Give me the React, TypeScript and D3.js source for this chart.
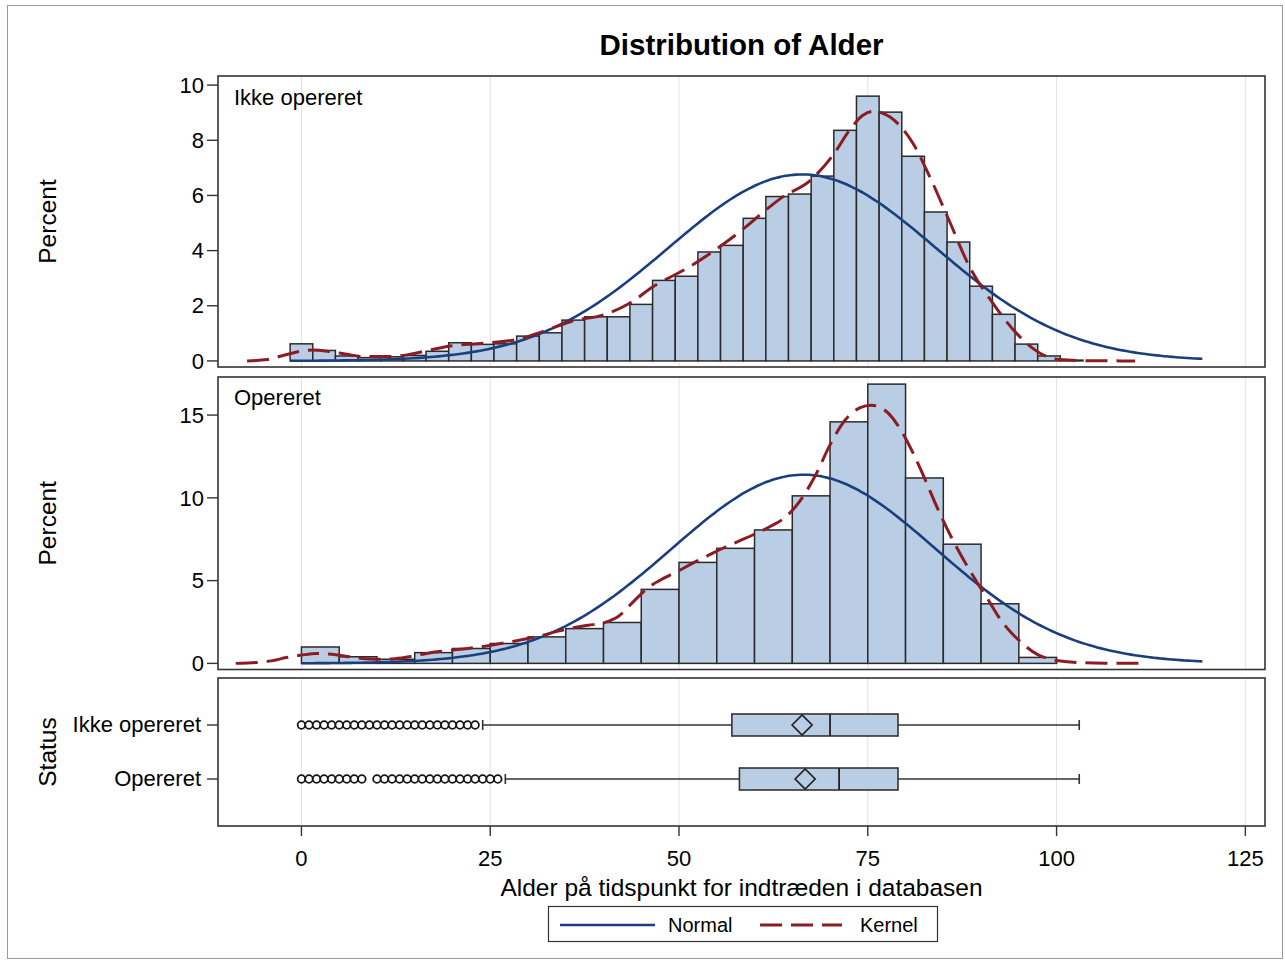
import React from 'react';
import * as d3 from 'd3';

// ---------- data ----------
const groups = ['Ikke opereret', 'Opereret'];

// Top panel histogram (Ikke opereret): bin width 3, centers
const ikkeBinCenters = [0, 3, 6, 9, 12, 15, 18, 21, 24, 27, 30, 33, 36, 39, 42, 45, 48, 51, 54, 57, 60, 63, 66, 69, 72, 75, 78, 81, 84, 87, 90, 93, 96, 99, 102];
const ikkePercent = [0.62, 0.38, 0.18, 0.12, 0.15, 0.2, 0.35, 0.66, 0.6, 0.62, 0.9, 1.02, 1.48, 1.6, 1.6, 2.05, 2.92, 3.07, 3.95, 4.19, 5.17, 5.96, 6.05, 6.7, 8.36, 9.6, 9.02, 7.42, 5.4, 4.31, 2.71, 1.69, 0.61, 0.18, 0.03];
const ikkeBinWidth = 3;

// Bottom panel histogram (Opereret): bin width 5, left edges
const operBinStarts = [0, 5, 10, 15, 20, 25, 30, 35, 40, 45, 50, 55, 60, 65, 70, 75, 80, 85, 90, 95];
const operPercent = [0.99, 0.4, 0.25, 0.65, 0.9, 1.2, 1.6, 2.1, 2.47, 4.47, 6.1, 6.95, 8.06, 10.12, 14.59, 16.87, 11.2, 7.2, 3.6, 0.36];
const operBinWidth = 5;

// Normal fit parameters
const normalMean = [66.3, 66.5];
const normalStd = [17.7, 17.5];
const normalRange: [number, number][] = [[-1.5, 119.3], [0, 119.3]];

// Kernel density curves
const ikkeKernel: [number, number][] = [
  [-7.2, 0], [-4.5, 0.05], [-2.8, 0.17], [0, 0.36], [1.6, 0.4], [3.8, 0.34], [6, 0.24], [8.2, 0.16], [11.7, 0.16], [14, 0.22],
  [16.1, 0.34], [19.7, 0.54], [24, 0.64], [28.5, 0.78], [32, 1.07], [35.9, 1.45], [39.9, 1.66], [43.4, 2.08], [46.5, 2.68],
  [51.3, 3.4], [54.4, 3.95], [58.8, 4.85], [61.4, 5.45], [63.6, 5.92], [67.4, 6.55], [70.4, 7.46], [72.6, 8.37], [74.3, 8.9],
  [75.8, 9.05], [77.9, 8.85], [81, 7.88], [83.2, 6.68], [85.6, 5.2], [88.5, 3.4], [91.6, 2.08], [94.7, 1.0], [97.8, 0.28],
  [100.4, 0.05], [104, 0.01], [110.4, 0],
];
const operKernel: [number, number][] = [
  [-8.7, 0], [-6, 0.05], [-4, 0.15], [-2, 0.35], [0, 0.5], [2, 0.6], [4, 0.55], [6, 0.42], [8, 0.3], [10, 0.25], [12, 0.27],
  [14, 0.38], [16, 0.55], [18, 0.7], [20, 0.8], [22, 0.9], [24, 1.02], [26, 1.17], [28, 1.33], [30, 1.5], [32, 1.7], [34, 1.95],
  [36, 2.15], [38, 2.3], [40, 2.45], [42, 2.85], [44, 3.75], [46, 4.6], [48, 5.15], [50, 5.6], [52, 6.1], [54, 6.55], [56, 7.0],
  [58, 7.4], [60, 7.8], [62, 8.25], [64, 8.8], [66, 9.8], [68, 11.3], [70, 13.2], [72, 14.7], [74, 15.45], [75.4, 15.6],
  [77.5, 15.2], [79.5, 14.0], [81, 12.7], [82.5, 11.2], [84.3, 9.3], [86.2, 7.5], [88, 6.0], [89.6, 4.8], [91, 3.8], [92.2, 2.9],
  [94, 1.85], [95, 1.4], [97.5, 0.53], [99, 0.27], [101, 0.12], [105, 0.02], [111.6, 0],
];

// Box plot statistics
const boxQ1 = [57, 58];
const boxMedian = [70, 71.2];
const boxQ3 = [79, 79];
const boxMean = [66.3, 66.7];
const whiskerLow = [24, 27];
const whiskerHigh = [103, 103];
const ikkeOutliers = [0, 1, 2, 3, 4, 5, 6, 7, 8, 9, 10, 11, 12, 13, 14, 15, 16, 17, 18, 19, 20, 21, 22, 23];
const operOutliers = [0, 1, 2, 3, 4, 5, 6, 7, 8, 10, 11, 12, 13, 14, 15, 16, 17, 18, 19, 20, 21, 22, 23, 24, 25, 26];

const xTicks = [0, 25, 50, 75, 100, 125];
const yTicksTop = [0, 2, 4, 6, 8, 10];
const yTicksBottom = [0, 5, 10, 15];

// ---------- styling ----------
const FONT = '"Liberation Sans", Arial, Helvetica, sans-serif';
const BAR_FILL = '#b9cde5';
const BAR_STROKE = '#2b2b2b';
const NORMAL_COLOR = '#1b3f7d';
const KERNEL_COLOR = '#8c1c24';
const GRID = '#e2e2e2';
const FRAME = '#333';
const DASH = '22 9';

const PL = 218, PR = 1265;

export default function App() {
  const x = d3.scaleLinear().domain([-11.05, 127.6]).range([PL, PR]);
  const yTop = d3.scaleLinear().domain([-0.22, 10.33]).range([367, 76]);
  const yBot = d3.scaleLinear().domain([-0.37, 17.3]).range([669.5, 377]);
  const boxTop = 678, boxBottom = 826;
  const yCat = d3.scalePoint<string>().domain(groups).range([boxTop, boxBottom]).padding(0.87);

  const normalCurve = (i: number) => {
    const [a, b] = normalRange[i];
    const bw = i === 0 ? ikkeBinWidth : operBinWidth;
    const pts: [number, number][] = [];
    const n = 240;
    for (let k = 0; k <= n; k++) {
      const xv = a + ((b - a) * k) / n;
      const z = (xv - normalMean[i]) / normalStd[i];
      const v = (100 * bw * Math.exp(-0.5 * z * z)) / (normalStd[i] * Math.sqrt(2 * Math.PI));
      pts.push([xv, v]);
    }
    return pts;
  };

  const lineTop = d3.line<[number, number]>().x(d => x(d[0])).y(d => yTop(d[1])).curve(d3.curveMonotoneX);
  const lineBot = d3.line<[number, number]>().x(d => x(d[0])).y(d => yBot(d[1])).curve(d3.curveMonotoneX);

  const panels = [
    { top: 76, bottom: 367 },
    { top: 377, bottom: 669.5 },
    { top: boxTop, bottom: boxBottom },
  ];

  const grid = panels.map((p, pi) => (
    <g key={'g' + pi}>
      {xTicks.map(t => (
        <line key={t} x1={x(t)} x2={x(t)} y1={p.top} y2={p.bottom} stroke={GRID} strokeWidth={1} />
      ))}
    </g>
  ));

  const tickFont = 22;

  return (
    <svg width={1285} height={962} style={{ position: 'absolute', left: 0, top: 0, background: '#fff' }} fontFamily={FONT}>
      <rect x={0} y={0} width={1285} height={962} fill="#fff" />
      <rect x={7.5} y={5.5} width={1275} height={953} fill="none" stroke="#9a9a9a" strokeWidth={1} />
      <text x={(PL + PR) / 2} y={55} textAnchor="middle" fontSize={29.5} fontWeight="bold" fill="#000">Distribution of Alder</text>

      {grid}

      {/* top histogram */}
      <g>
        {ikkeBinCenters.map((c, i) => (
          <rect key={c} x={x(c - ikkeBinWidth / 2)} y={yTop(ikkePercent[i])}
            width={x(c + ikkeBinWidth / 2) - x(c - ikkeBinWidth / 2)} height={yTop(0) - yTop(ikkePercent[i])}
            fill={BAR_FILL} stroke={BAR_STROKE} strokeWidth={1.5} />
        ))}
        <path d={lineTop(normalCurve(0)) || ''} fill="none" stroke={NORMAL_COLOR} strokeWidth={2.6} />
        <path d={lineTop(ikkeKernel) || ''} fill="none" stroke={KERNEL_COLOR} strokeWidth={3} strokeDasharray={DASH} />
        <text x={234} y={105} fontSize={22} fill="#000">Ikke opereret</text>
      </g>

      {/* bottom histogram */}
      <g>
        {operBinStarts.map((s, i) => (
          <rect key={s} x={x(s)} y={yBot(operPercent[i])}
            width={x(s + operBinWidth) - x(s)} height={yBot(0) - yBot(operPercent[i])}
            fill={BAR_FILL} stroke={BAR_STROKE} strokeWidth={1.5} />
        ))}
        <path d={lineBot(normalCurve(1)) || ''} fill="none" stroke={NORMAL_COLOR} strokeWidth={2.6} />
        <path d={lineBot(operKernel) || ''} fill="none" stroke={KERNEL_COLOR} strokeWidth={3} strokeDasharray={DASH} />
        <text x={234} y={405} fontSize={22} fill="#000">Opereret</text>
      </g>

      {/* box plots */}
      <g>
        {groups.map((gname, i) => {
          const cy = yCat(gname) as number;
          const h = 11;
          const outl = i === 0 ? ikkeOutliers : operOutliers;
          const md = 10;
          const mx = x(boxMean[i]);
          return (
            <g key={gname}>
              <line x1={x(whiskerLow[i])} x2={x(boxQ1[i])} y1={cy} y2={cy} stroke="#333" strokeWidth={1.4} />
              <line x1={x(boxQ3[i])} x2={x(whiskerHigh[i])} y1={cy} y2={cy} stroke="#333" strokeWidth={1.4} />
              <line x1={x(whiskerLow[i])} x2={x(whiskerLow[i])} y1={cy - 5} y2={cy + 5} stroke="#333" strokeWidth={1.6} />
              <line x1={x(whiskerHigh[i])} x2={x(whiskerHigh[i])} y1={cy - 5} y2={cy + 5} stroke="#333" strokeWidth={1.6} />
              <rect x={x(boxQ1[i])} y={cy - h} width={x(boxQ3[i]) - x(boxQ1[i])} height={2 * h}
                fill={BAR_FILL} stroke="#333" strokeWidth={1.6} />
              <line x1={x(boxMedian[i])} x2={x(boxMedian[i])} y1={cy - h} y2={cy + h} stroke="#222" strokeWidth={1.8} />
              <path d={`M${mx - md},${cy} L${mx},${cy - md} L${mx + md},${cy} L${mx},${cy + md} Z`} fill="none" stroke="#222" strokeWidth={1.7} />
              {outl.map(o => (
                <circle key={o} cx={x(o)} cy={cy} r={3.8} fill="#fff" stroke="#151515" strokeWidth={1.8} />
              ))}
            </g>
          );
        })}
      </g>

      {/* frames */}
      {panels.map((p, pi) => (
        <rect key={'f' + pi} x={PL} y={p.top} width={PR - PL} height={p.bottom - p.top} fill="none" stroke={FRAME} strokeWidth={1.6} />
      ))}

      {/* y axes */}
      <g fontSize={tickFont} fill="#000">
        {yTicksTop.map(t => (
          <g key={'yt' + t}>
            <line x1={PL - 11} x2={PL} y1={yTop(t)} y2={yTop(t)} stroke="#333" strokeWidth={1.4} />
            <text x={PL - 14} y={yTop(t)} dy="0.35em" textAnchor="end">{t}</text>
          </g>
        ))}
        {yTicksBottom.map(t => (
          <g key={'yb' + t}>
            <line x1={PL - 11} x2={PL} y1={yBot(t)} y2={yBot(t)} stroke="#333" strokeWidth={1.4} />
            <text x={PL - 14} y={yBot(t)} dy="0.35em" textAnchor="end">{t}</text>
          </g>
        ))}
        {groups.map(gname => (
          <g key={'yc' + gname}>
            <line x1={PL - 11} x2={PL} y1={yCat(gname) as number} y2={yCat(gname) as number} stroke="#333" strokeWidth={1.4} />
            <text x={PL - 17} y={(yCat(gname) as number) - 1} dy="0.35em" textAnchor="end">{gname}</text>
          </g>
        ))}
      </g>

      {/* y labels */}
      <g fontSize={24.5} fill="#000">
        <text transform={`translate(56,${(76 + 367) / 2}) rotate(-90)`} textAnchor="middle">Percent</text>
        <text transform={`translate(56,${(377 + 669.5) / 2}) rotate(-90)`} textAnchor="middle">Percent</text>
        <text transform={`translate(56,${(boxTop + boxBottom) / 2}) rotate(-90)`} textAnchor="middle">Status</text>
      </g>

      {/* x axis */}
      <g fontSize={tickFont} fill="#000">
        {xTicks.map(t => (
          <g key={'xt' + t}>
            <line x1={x(t)} x2={x(t)} y1={boxBottom} y2={boxBottom + 10} stroke="#333" strokeWidth={1.4} />
            <text x={x(t)} y={866} textAnchor="middle">{t}</text>
          </g>
        ))}
      </g>
      <text x={(PL + PR) / 2} y={896} textAnchor="middle" fontSize={24.5} fill="#000">Alder på tidspunkt for indtræden i databasen</text>

      {/* legend */}
      <g>
        <rect x={548.5} y={906.5} width={389} height={35} fill="#fff" stroke="#333" strokeWidth={1.2} />
        <line x1={560} x2={655} y1={925} y2={925} stroke={NORMAL_COLOR} strokeWidth={2.6} />
        <text x={668} y={932} fontSize={20} fill="#000">Normal</text>
        <line x1={760} x2={842} y1={925} y2={925} stroke={KERNEL_COLOR} strokeWidth={3} strokeDasharray={DASH} />
        <text x={860} y={932} fontSize={20} fill="#000">Kernel</text>
      </g>
    </svg>
  );
}
